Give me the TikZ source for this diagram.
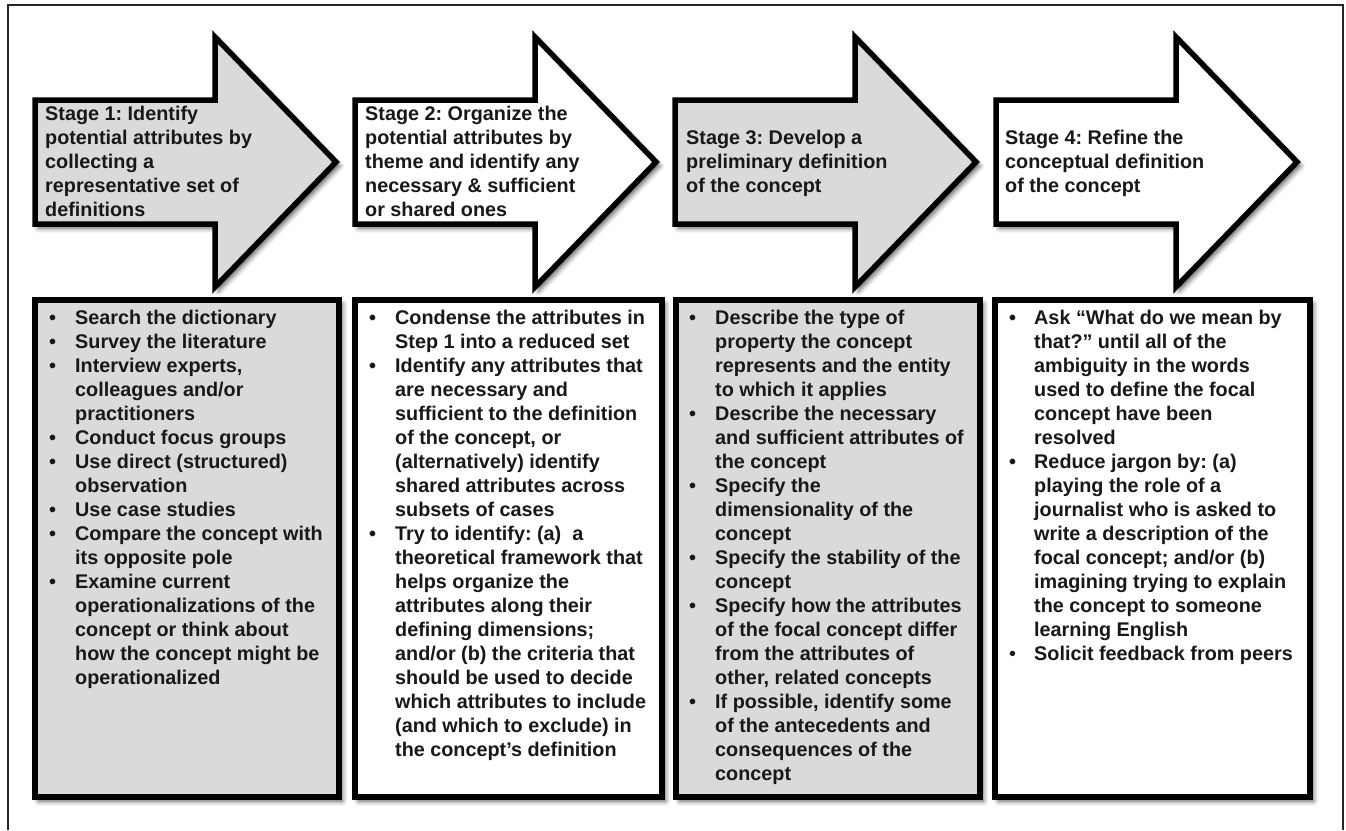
\documentclass[tikz,border=0pt]{standalone}
\usepackage{fontspec}
\setmainfont{Liberation Sans}
\usetikzlibrary{shadows.blur}
\definecolor{panelgray}{RGB}{218,218,218}
\definecolor{inkgray}{RGB}{24,24,24}
\tikzset{
  panel/.style={draw=black, line width=5.5pt, line join=miter,
    blur shadow={shadow xshift=3.5pt, shadow yshift=-4pt, shadow blur radius=5pt, shadow opacity=65}},
  greypanel/.style={panel, fill=panelgray},
  whitepanel/.style={panel, fill=white},
  frameline/.style={draw=black!85, line width=2.2pt},
  stagetext/.style={anchor=west, inner sep=0pt, text=inkgray,
    font=\frenchspacing\bfseries\fontsize{19.8}{24}\selectfont},
  listtext/.style={anchor=north west, inner sep=0pt, text=inkgray,
    font=\frenchspacing\bfseries\fontsize{19.8}{24}\selectfont},
}
% stage arrow whose tail starts at x = #1
\newcommand{\stagearrow}[2]{%
  \path[#2] (#1+3,100) -- (#1+183,100) -- (#1+183,37) -- (#1+304,162)
    -- (#1+183,287) -- (#1+183,224) -- (#1+3,224) -- cycle;
}
% bullet row and continuation row of a list
\newcommand{\bu}{\textbullet &}
\newcommand{\co}{&}
\begin{document}
\begin{tikzpicture}[x=1pt, y=-1pt]
\useasboundingbox (0,0) rectangle (1346,830);

% outer frame
\path[frameline] (8,830) -- (8,5) -- (1343,5) -- (1343,830);

% stage arrows
\stagearrow{32}{greypanel}
\stagearrow{352}{whitepanel}
\stagearrow{672}{greypanel}
\stagearrow{993}{whitepanel}

% activity boxes
\path[greypanel]  (35,300)  rectangle (339,797);
\path[whitepanel] (355,300) rectangle (662,797);
\path[greypanel]  (676,300) rectangle (980,797);
\path[whitepanel] (995,300) rectangle (1310,797);

% stage titles
\node[stagetext] (s1) at (45,163.5) {\begin{tabular}{@{}l@{}}
Stage 1: Identify\\ potential attributes by\\ collecting a\\ representative set of\\ definitions
\end{tabular}};
\node[stagetext] (s2) at (365,163.5) {\begin{tabular}{@{}l@{}}
Stage 2: Organize the\\ potential attributes by\\ theme and identify any\\ necessary \& sufficient\\ or shared ones
\end{tabular}};
\node[stagetext] (s3) at (686,163.5) {\begin{tabular}{@{}l@{}}
Stage 3: Develop a\\ preliminary definition\\ of the concept
\end{tabular}};
\node[stagetext] (s4) at (1005,163.5) {\begin{tabular}{@{}l@{}}
Stage 4: Refine the\\ conceptual definition\\ of the concept
\end{tabular}};

% activity lists
\node[listtext] (b1) at (49,307.2) {\begin{tabular}{@{}p{26pt}@{}l@{}}
\bu Search the dictionary\\
\bu Survey the literature\\
\bu Interview experts,\\
\co colleagues and/or\\
\co practitioners\\
\bu Conduct focus groups\\
\bu Use direct (structured)\\
\co observation\\
\bu Use case studies\\
\bu Compare the concept with\\
\co its opposite pole\\
\bu Examine current\\
\co operationalizations of the\\
\co concept or think about\\
\co how the concept might be\\
\co operationalized
\end{tabular}};

\node[listtext] (b2) at (369,307.2) {\begin{tabular}{@{}p{26pt}@{}l@{}}
\bu Condense the attributes in\\
\co Step 1 into a reduced set\\
\bu Identify any attributes that\\
\co are necessary and\\
\co sufficient to the definition\\
\co of the concept, or\\
\co (alternatively) identify\\
\co shared attributes across\\
\co subsets of cases\\
\bu Try to identify: (a)\ \ a\\
\co theoretical framework that\\
\co helps organize the\\
\co attributes along their\\
\co defining dimensions;\\
\co and/or (b) the criteria that\\
\co should be used to decide\\
\co which attributes to include\\
\co (and which to exclude) in\\
\co the concept’s definition
\end{tabular}};

\node[listtext] (b3) at (689,307.2) {\begin{tabular}{@{}p{26pt}@{}l@{}}
\bu Describe the type of\\
\co property the concept\\
\co represents and the entity\\
\co to which it applies\\
\bu Describe the necessary\\
\co and sufficient attributes of\\
\co the concept\\
\bu Specify the\\
\co dimensionality of the\\
\co concept\\
\bu Specify the stability of the\\
\co concept\\
\bu Specify how the attributes\\
\co of the focal concept differ\\
\co from the attributes of\\
\co other, related concepts\\
\bu If possible, identify some\\
\co of the antecedents and\\
\co consequences of the\\
\co concept
\end{tabular}};

\node[listtext] (b4) at (1009,307.2) {\begin{tabular}{@{}p{25pt}@{}l@{}}
\bu Ask “What do we mean by\\
\co that?\symbol{34} until all of the\\
\co ambiguity in the words\\
\co used to define the focal\\
\co concept have been\\
\co resolved\\
\bu Reduce jargon by: (a)\\
\co playing the role of a\\
\co journalist who is asked to\\
\co write a description of the\\
\co focal concept; and/or (b)\\
\co imagining trying to explain\\
\co the concept to someone\\
\co learning English\\
{\mdseries\textbullet} & Solicit feedback from peers
\end{tabular}};
\end{tikzpicture}
\end{document}
